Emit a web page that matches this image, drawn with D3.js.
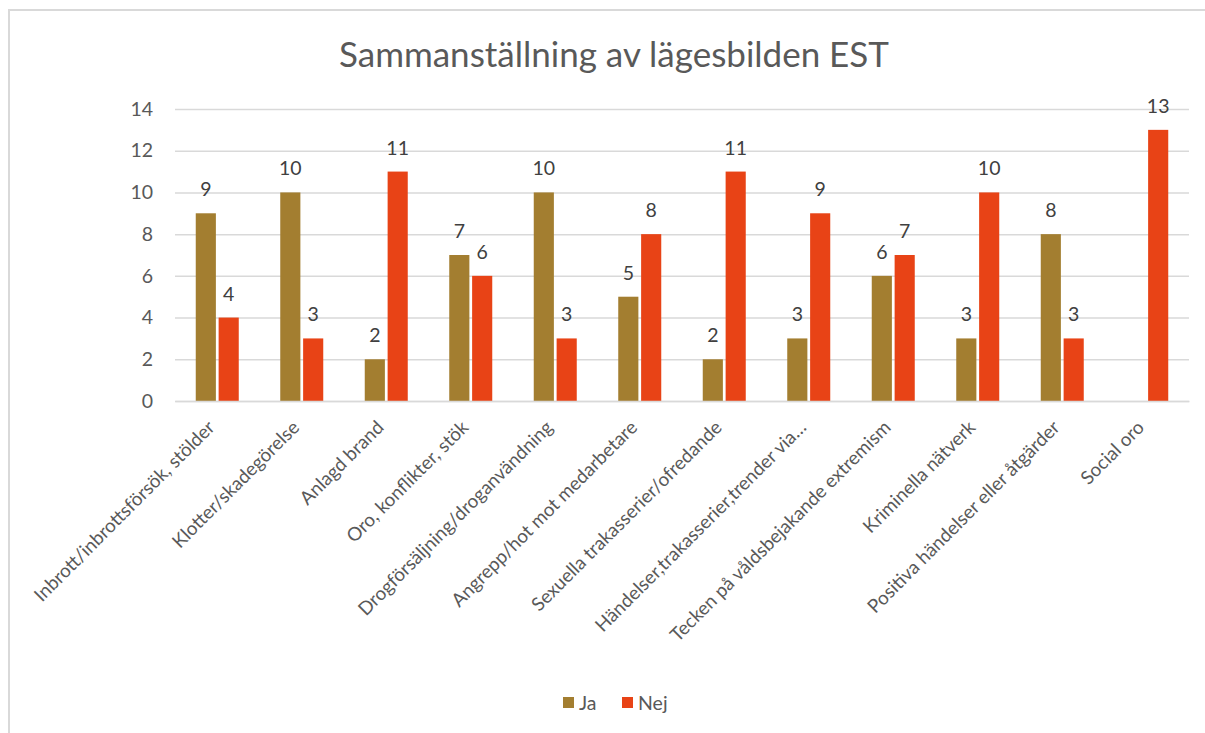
<!DOCTYPE html>
<html>
<head>
<meta charset="utf-8">
<script src="https://cdn.jsdelivr.net/npm/d3@7"></script>
<style>
  html, body { margin: 0; padding: 0; background: #fff; }
  svg { display: block; }
  text { font-family: Lato, "Open Sans", sans-serif; }
</style>
</head>
<body>
<svg id="chart" width="1205" height="733"></svg>
<script>
// Survey summary: number of "Ja" / "Nej" answers per topic
const categories = [
  "Inbrott/inbrottsförsök, stölder",
  "Klotter/skadegörelse",
  "Anlagd brand",
  "Oro, konflikter, stök",
  "Drogförsäljning/droganvändning",
  "Angrepp/hot mot medarbetare",
  "Sexuella trakasserier/ofredande",
  "Händelser,trakasserier,trender via…",
  "Tecken på våldsbejakande extremism",
  "Kriminella nätverk",
  "Positiva händelser eller åtgärder",
  "Social oro"
];
const jaValues  = [9, 10, 2, 7, 10, 5, 2, 3, 6, 3, 8, null];
const nejValues = [4, 3, 11, 6, 3, 8, 11, 9, 7, 10, 3, 13];
const seriesNames = ["Ja", "Nej"];
const yTicks = [0, 2, 4, 6, 8, 10, 12, 14];
const chartTitle = "Sammanställning av lägesbilden EST";

const colors = { Ja: "#A37E30", Nej: "#E84316" };
const textColor = "#595959";
const gridColor = "#D9D9D9";

const svg = d3.select("#chart");

// chart frame
svg.append("rect")
  .attr("x", 9).attr("y", 10)
  .attr("width", 1205).attr("height", 740)
  .attr("fill", "#fff")
  .attr("stroke", gridColor).attr("stroke-width", 2);

const plot = { left: 175, right: 1189, top: 109, bottom: 401 };

const x0 = d3.scaleBand()
  .domain(categories)
  .range([plot.left, plot.right]);

const x1 = d3.scaleBand()
  .domain(seriesNames)
  .range([0, 43])
  .paddingInner(0.12);

const y = d3.scaleLinear()
  .domain([0, 14])
  .range([plot.bottom, plot.top]);

// title
svg.append("text")
  .attr("x", 614).attr("y", 67)
  .attr("text-anchor", "middle")
  .attr("fill", textColor)
  .style("font-size", "35px")
  .text(chartTitle);

// gridlines and y labels
const yAxis = d3.axisLeft(y)
  .tickValues(yTicks)
  .tickSize(-(plot.right - plot.left))
  .tickPadding(22);

const yg = svg.append("g")
  .attr("transform", `translate(${plot.left},0)`)
  .call(yAxis);
yg.select(".domain").remove();
yg.selectAll(".tick line").attr("stroke", gridColor).attr("stroke-width", 1.5);
yg.selectAll(".tick text")
  .attr("fill", textColor)
  .style("font-size", "19.5px")
  .style("font-family", "Lato, sans-serif");

// bars
const rows = categories.map((c, i) => ({
  cat: c,
  vals: [
    { key: "Ja", v: jaValues[i] },
    { key: "Nej", v: nejValues[i] }
  ]
}));

const groups = svg.append("g").selectAll("g")
  .data(rows)
  .join("g")
  .attr("transform", d => `translate(${x0(d.cat) + (x0.bandwidth() - 43) / 2},0)`);

groups.selectAll("rect")
  .data(d => d.vals.filter(v => v.v != null))
  .join("rect")
  .attr("x", d => x1(d.key))
  .attr("width", x1.bandwidth())
  .attr("y", d => y(d.v))
  .attr("height", d => y(0) - y(d.v))
  .attr("fill", d => colors[d.key]);

groups.selectAll("text")
  .data(d => d.vals.filter(v => v.v != null))
  .join("text")
  .attr("x", d => x1(d.key) + x1.bandwidth() / 2)
  .attr("y", d => y(d.v) - 17)
  .attr("text-anchor", "middle")
  .attr("fill", "#404040")
  .style("font-size", "19.5px")
  .text(d => d.v);

// category axis
const xg = svg.append("g")
  .attr("transform", `translate(0,${plot.bottom})`)
  .call(d3.axisBottom(x0).tickSize(0).tickFormat(""));
xg.select(".domain").attr("stroke", gridColor).attr("stroke-width", 1.5);

svg.append("g").selectAll("text")
  .data(categories)
  .join("text")
  .attr("transform", d => `translate(${x0(d) + x0.bandwidth() / 2 - 6},${plot.bottom + 23}) rotate(-45)`)
  .attr("text-anchor", "end")
  .attr("dy", "0.35em")
  .attr("fill", textColor)
  .style("font-size", "18.8px")
  .text(d => d);

// legend
const legend = svg.append("g").attr("transform", "translate(563,697)");
const legendItems = legend.selectAll("g")
  .data(seriesNames)
  .join("g")
  .attr("transform", (d, i) => `translate(${i * 59},0)`);
legendItems.append("rect")
  .attr("width", 11).attr("height", 11)
  .attr("fill", d => colors[d]);
legendItems.append("text")
  .attr("x", 16).attr("y", 5.5)
  .attr("dy", "0.36em")
  .attr("fill", textColor)
  .style("font-size", "19.5px")
  .text(d => d);
</script>
</body>
</html>
